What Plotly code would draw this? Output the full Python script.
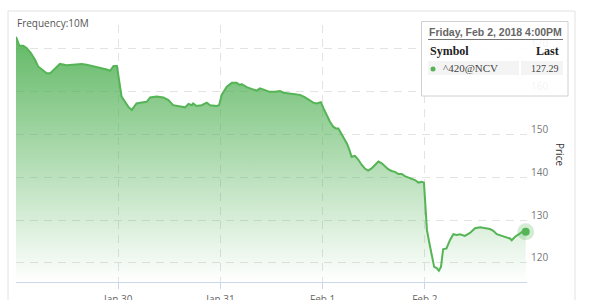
import pandas as pd
import plotly.graph_objects as go

# ---- data: hours since 2018-01-29 00:00 (session-compressed axis) and price ----
hours = [0.0, 0.8, 1.7, 2.5, 3.5, 4.5, 5.2, 6.4, 7.2, 8.0, 9.2, 10.3, 11.9, 13.1, 14.6, 15.4,
         16.6, 18.2, 19.7, 21.3, 22.1, 22.9, 23.7, 24.3, 24.8,
         25.6, 26.4, 27.2, 27.7, 28.3, 29.5, 30.7, 31.5, 33.0, 34.6, 35.8, 36.9, 38.5, 39.7,
         40.5, 41.3, 41.6, 42.4, 43.6, 44.8, 45.6, 47.1,
         47.7, 48.3, 49.5, 50.7, 51.8, 52.6, 53.0, 54.2, 55.3, 56.5, 57.3, 58.5, 59.6, 60.8,
         62.0, 62.8, 63.9, 65.5, 66.7, 67.9, 69.0, 69.8, 70.6, 71.6,
         72.2, 73.0, 73.7, 74.5, 75.1, 75.7, 76.2, 76.9, 77.7, 78.3, 78.8, 79.6, 80.4, 81.2,
         82.0, 82.7, 83.5, 84.3, 85.1, 85.9, 86.7, 87.4, 88.2, 89.0, 89.8, 90.6, 91.3, 92.1,
         92.9, 93.7, 94.5, 95.3, 95.8,
         96.0, 96.5, 97.0, 97.6, 98.2, 98.8, 99.3, 99.8, 100.3, 101.1, 101.9, 102.7, 103.5,
         104.3, 105.4, 106.6, 107.8, 109.0, 110.1, 111.3, 112.1, 112.9, 114.1, 115.2, 116.0,
         116.4, 117.2, 118.1, 118.8, 119.7]
price = [172.6, 170.5, 170.5, 170.0, 168.8, 167.2, 165.7, 164.7, 164.1, 164.1, 165.3, 166.3,
         166.0, 166.1, 166.4, 166.3, 166.1, 165.7, 165.5, 165.0, 164.7, 165.8, 165.8, 162.0, 158.7,
         157.5, 156.3, 155.6, 156.3, 157.1, 157.3, 157.5, 158.5, 158.7, 158.5, 157.9, 156.7,
         156.5, 156.2, 157.0, 156.7, 157.1, 156.5, 156.7, 157.3, 156.7, 156.5,
         156.7, 159.1, 161.0, 161.9, 161.9, 161.4, 161.6, 160.9, 160.5, 160.1, 160.6, 160.2,
         159.8, 159.8, 160.0, 159.6, 159.5, 159.3, 159.1, 158.5, 157.9, 157.3, 157.1, 157.4,
         156.0, 154.4, 152.9, 151.7, 151.3, 151.3, 150.5, 149.4, 147.8, 146.3, 144.7, 144.9,
         144.0, 142.8, 141.9, 141.5, 142.0, 142.8, 143.6, 143.2, 142.4, 141.8, 141.4, 141.2,
         140.7, 140.7, 140.2, 139.9, 139.7, 139.3, 138.7, 138.9, 138.7,
         136.0, 127.7, 125.0, 122.3, 119.1, 118.8, 118.2, 119.1, 123.2, 123.4, 125.3, 126.7,
         126.5, 126.7, 126.3, 127.0, 128.1, 128.3, 128.1, 127.9, 127.5, 126.7, 126.3, 125.9,
         125.7, 125.3, 126.1, 126.7, 127.2, 127.29]
tick_dates = ["2018-01-30", "2018-01-31", "2018-02-01", "2018-02-02"]
tick_labels = ["Jan 30", "Jan 31", "Feb 1", "Feb 2"]
y_ticks = [120, 130, 140, 150, 160, 170]
symbol = "^420@NCV"
last_label = "127.29"
header = "Friday, Feb 2, 2018 4:00PM"

start = pd.Timestamp("2018-01-29")
times = [start + pd.Timedelta(hours=h) for h in hours]

GREEN = "#55b455"
Y0, Y1 = 115.58, 175.35

fig = go.Figure()
fig.add_trace(go.Scatter(
    x=times, y=price, mode="lines",
    line=dict(color=GREEN, width=2),
    fill="tozeroy",
    fillgradient=dict(type="vertical", start=Y0, stop=price[0],
                      colorscale=[[0, "rgba(76,175,80,0.0)"], [1, "rgba(76,175,80,0.88)"]]),
    hoverinfo="skip", showlegend=False))
# halo + last point
fig.add_trace(go.Scatter(x=[times[-1]], y=[price[-1]], mode="markers", cliponaxis=False,
                         marker=dict(size=17, color="rgba(85,180,85,0.25)"),
                         hoverinfo="skip", showlegend=False))
fig.add_trace(go.Scatter(x=[times[-1]], y=[price[-1]], mode="markers", cliponaxis=False,
                         marker=dict(size=8, color=GREEN),
                         hoverinfo="skip", showlegend=False))

grid = "#e3e3e3"
fig.update_xaxes(
    range=[start, start + pd.Timedelta(days=5)],
    tickvals=pd.to_datetime(tick_dates), ticktext=tick_labels,
    showgrid=True, gridcolor=grid, griddash="8px,6px", gridwidth=1,
    showline=True, linecolor="#ccd6eb", linewidth=1,
    ticks="outside", ticklen=6, tickcolor="#ccd6eb",
    ticklabelstandoff=2,
    tickfont=dict(family="Open Sans", size=10, color="#666666"),
    zeroline=False, automargin=False, fixedrange=True)
fig.update_yaxes(
    side="right", range=[Y0, Y1], tickvals=y_ticks,
    showgrid=True, gridcolor=grid, griddash="8px,6px", gridwidth=1,
    showline=False, zeroline=False, ticks="",
    ticklabelstandoff=3, ticklabelshift=-5,
    tickfont=dict(family="Open Sans", size=10, color="#777777"),
    automargin=False, fixedrange=True)

def px(x):
    return (x - 16) / 511.0

def py(y):
    return (282 - y) / 257.0

shapes = [
    # outer card
    dict(type="rect", xref="paper", yref="paper", x0=px(8), x1=px(575), y0=-0.3, y1=py(11),
         line=dict(color="#e2e2e2", width=1), fillcolor="rgba(0,0,0,0)", layer="below"),
    # tooltip box
    dict(type="rect", xref="paper", yref="paper", x0=px(421.5), x1=px(568), y0=py(96), y1=py(21.5),
         line=dict(color="#d0d0d0", width=1), fillcolor="rgba(255,255,255,0.9)", layer="above"),
    dict(type="line", xref="paper", yref="paper", x0=px(428), x1=px(563), y0=py(39.5), y1=py(39.5),
         line=dict(color="#777777", width=1), layer="above"),
    dict(type="rect", xref="paper", yref="paper", x0=px(428), x1=px(519), y0=py(75), y1=py(61),
         line=dict(width=0), fillcolor="#f4f4f4", layer="above"),
    dict(type="rect", xref="paper", yref="paper", x0=px(521), x1=px(563), y0=py(75), y1=py(61),
         line=dict(width=0), fillcolor="#f4f4f4", layer="above"),
    dict(type="circle", xref="paper", yref="paper", x0=px(430.5), x1=px(435.5), y0=py(71.5), y1=py(66.5),
         line=dict(width=0), fillcolor=GREEN, layer="above"),
]

ann = [
    dict(text="Frequency:10M", x=px(15), y=py(23), xanchor="left", yanchor="middle",
         font=dict(family="Open Sans", size=10, color="#555555")),
    dict(text="Price", x=px(560), y=py(154), textangle=90, xanchor="center", yanchor="middle",
         font=dict(family="Open Sans", size=10, color="#333333")),
    dict(text="<b>" + header + "</b>", x=px(427), y=py(32), xanchor="left", yanchor="middle",
         font=dict(family="Liberation Sans", size=10.5, color="#666666")),
    dict(text="<b>Symbol</b>", x=px(428), y=py(51), xanchor="left", yanchor="middle",
         font=dict(family="Liberation Serif", size=12, color="#222222")),
    dict(text="<b>Last</b>", x=px(561), y=py(51), xanchor="right", yanchor="middle",
         font=dict(family="Liberation Serif", size=12, color="#222222")),
    dict(text=symbol, x=px(441), y=py(68.5), xanchor="left", yanchor="middle",
         font=dict(family="Liberation Serif", size=11, color="#444444")),
    dict(text=last_label, x=px(561), y=py(68.5), xanchor="right", yanchor="middle",
         font=dict(family="Liberation Serif", size=10, color="#444444")),
]
for a in ann:
    a.update(xref="paper", yref="paper", showarrow=False)

fig.update_layout(
    width=600, height=300,
    margin=dict(l=16, r=73, t=25, b=18, autoexpand=False),
    paper_bgcolor="white", plot_bgcolor="white",
    shapes=shapes, annotations=ann, showlegend=False)

fig.write_html("out.html", config={"displayModeBar": False})
